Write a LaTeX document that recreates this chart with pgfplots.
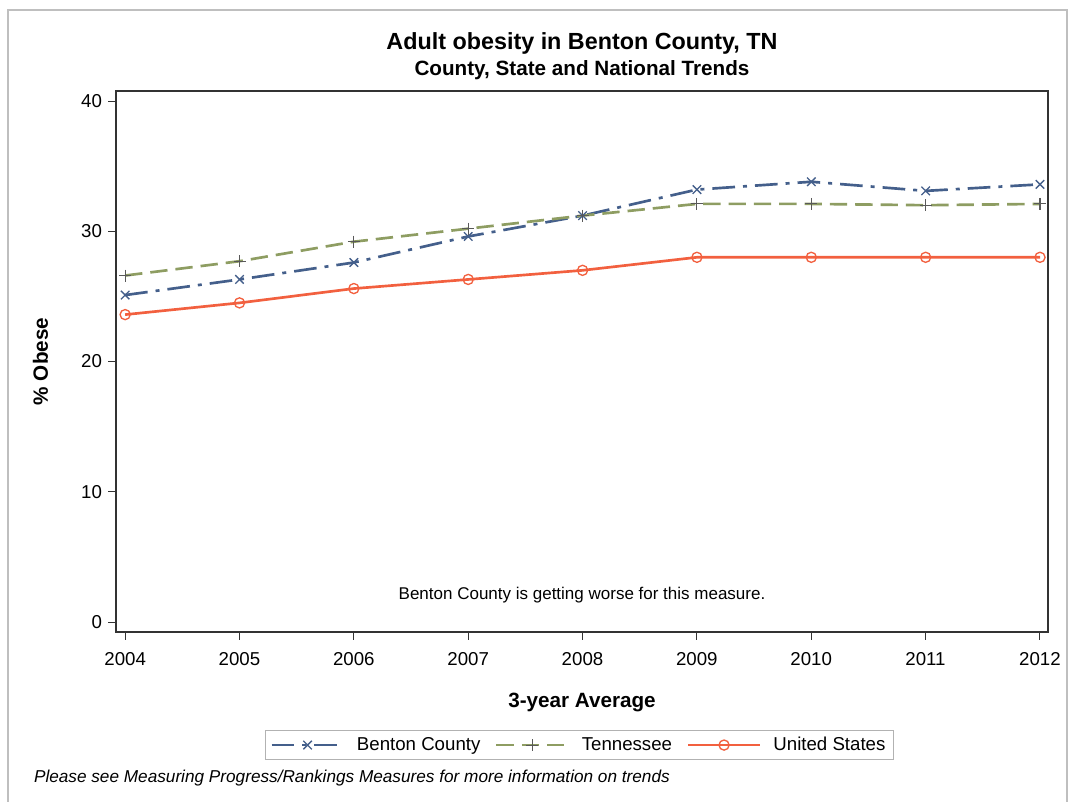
\documentclass[border=0pt]{standalone}
\usepackage{pgfplots}
\pgfplotsset{compat=1.18}
\usepackage{fontspec}
\setmainfont{Liberation Sans}
\definecolor{benton}{HTML}{445F8B}
\definecolor{tenn}{HTML}{8E9D62}
\definecolor{usa}{HTML}{F2603F}
\begin{document}
\begin{tikzpicture}
\path[use as bounding box] (0,0) rectangle (807.75pt,601.5pt);
\draw[gray!50, line width=0.8pt] (6pt,0pt) -- (6pt,594pt) -- (800.25pt,594pt) -- (800.25pt,0pt);
\begin{axis}[
  at={(87pt,127.5pt)}, anchor=south west,
  scale only axis, width=699pt, height=405.75pt,
  xmin=2003.92, xmax=2012.07, ymin=-0.77, ymax=40.77,
  xtick={2004,...,2012}, ytick={0,10,20,30,40},
  xtick pos=bottom, ytick pos=left,
  xticklabel style={/pgf/number format/1000 sep={}, yshift=-6pt},
  yticklabel style={xshift=-1pt},
  /pgf/number format/assume math mode=true,
  tick label style={font=\fontsize{14}{16}\selectfont},
  tick align=outside, major tick length=6pt,
  tick style={black!80, line width=0.6pt},
  axis line style={black!80, line width=0.8pt},
  xlabel={\textbf{3-year Average}}, ylabel={\textbf{\% Obese}},
  label style={font=\fontsize{15.5}{18}\selectfont},
  xlabel style={at={(axis description cs:0.5,-0.131)}, anchor=center},
  ylabel style={at={(axis description cs:-0.081,0.5)}, anchor=center},
  legend style={at={(axis description cs:0.497,-0.209)}, anchor=center,
    legend columns=3, draw=gray!60, font=\fontsize{14}{16}\selectfont,
    /tikz/every even column/.append style={column sep=9pt},
    /tikz/every odd column/.append style={column sep=7pt},
    inner ysep=3pt, inner xsep=4pt},
  legend image code/.code={\draw[mark repeat=2,mark phase=2] plot coordinates {(0pt,0pt) (27pt,0pt) (54pt,0pt)};},
  clip=false,
]
\addplot[benton, line width=2pt, dash pattern=on 17pt off 6pt on 3pt off 6pt,
  mark=x, mark size=4.5pt, mark options={solid, line width=1pt}] coordinates {
  (2004,25.1) (2005,26.3) (2006,27.6) (2007,29.6) (2008,31.2)
  (2009,33.2) (2010,33.8) (2011,33.1) (2012,33.6)};
\addlegendentry{Benton County}
\addplot[tenn, line width=2pt, dash pattern=on 13pt off 6pt,
  mark=+, mark size=4.5pt, mark options={solid, line width=0.8pt, gray!70!black}] coordinates {
  (2004,26.6) (2005,27.7) (2006,29.2) (2007,30.2) (2008,31.2)
  (2009,32.1) (2010,32.1) (2011,32.0) (2012,32.1)};
\addlegendentry{Tennessee}
\addplot[usa, line width=2pt,
  mark=o, mark size=3.8pt, mark options={solid, line width=1pt}] coordinates {
  (2004,23.6) (2005,24.5) (2006,25.6) (2007,26.3) (2008,27.0)
  (2009,28.0) (2010,28.0) (2011,28.0) (2012,28.0)};
\addlegendentry{United States}
\node[font=\fontsize{12.75}{15}\selectfont] at (axis description cs:0.5,0.069) {Benton County is getting worse for this measure.};
\end{axis}
\node[font=\bfseries\fontsize{17.5}{20}\selectfont] at (436.5pt,569.25pt) {Adult obesity in Benton County, TN};
\node[font=\bfseries\fontsize{15.5}{18}\selectfont] at (436.5pt,549pt) {County, State and National Trends};
\node[font=\itshape\fontsize{12.9}{15}\selectfont, anchor=west] at (22pt,18pt) {Please see Measuring Progress/Rankings Measures for more information on trends};
\end{tikzpicture}
\end{document}
